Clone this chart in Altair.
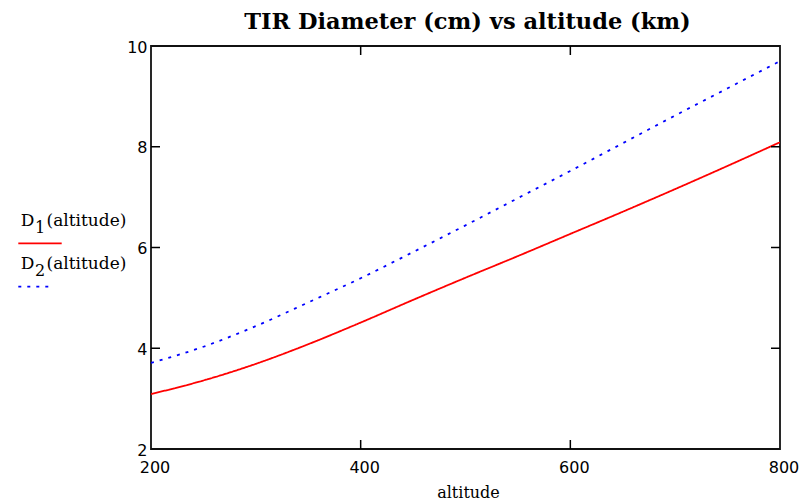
import altair as alt
import pandas as pd

# ---- data ----
altitude = [200, 250, 300, 350, 400, 450, 500, 550, 600, 650, 700, 750, 800]
d1_values = [3.09, 3.36, 3.69, 4.08, 4.51, 4.96, 5.40, 5.83, 6.27, 6.71, 7.16, 7.62, 8.09]
d2_values = [3.71, 4.03, 4.44, 4.91, 5.39, 5.91, 6.44, 6.98, 7.52, 8.07, 8.62, 9.16, 9.70]
series_names = ["D1(altitude)", "D2(altitude)"]
series_main = ["D", "D"]
series_sub = ["1", "2"]
series_arg = ["(altitude)", "(altitude)"]
series_colors = ["#ff0000", "#0000ff"]
series_dash = [[1, 0], [3, 6]]
x_ticks = [200, 400, 600, 800]
y_ticks = [2, 4, 6, 8, 10]
x_inner_ticks = [400, 600]
y_inner_ticks = [4, 6, 8]
title_text = "TIR Diameter (cm) vs altitude (km)"
x_title = "altitude"

W, H = 629, 403

rows = []
for a, v in zip(altitude, d1_values):
    rows.append({"altitude": a, "value": v, "series": series_names[0]})
for a, v in zip(altitude, d2_values):
    rows.append({"altitude": a, "value": v, "series": series_names[1]})
df = pd.DataFrame(rows)

xscale = alt.Scale(domain=[200, 800], nice=False, zero=False)
yscale = alt.Scale(domain=[2, 10], nice=False, zero=False)

lines = alt.Chart(df).mark_line(interpolate="monotone", strokeWidth=1.8, clip=True).encode(
    x=alt.X("altitude:Q", scale=xscale, title=x_title,
            axis=alt.Axis(values=x_ticks, ticks=False, tickSize=0, domain=False, grid=False,
                          labelFont="DejaVu Sans", labelFontSize=16, labelColor="black",
                          labelPadding=10, labelOffset=3.5, labelFlush=False,
                          titleFont="DejaVu Serif", titleFontSize=16, titleFontWeight="normal",
                          titleColor="black", titleX=317, titleY=48, titleBaseline="alphabetic")),
    y=alt.Y("value:Q", scale=yscale, title=None,
            axis=alt.Axis(values=y_ticks, ticks=False, tickSize=0, domain=False, grid=False,
                          labelFont="DejaVu Sans", labelFontSize=16, labelColor="black",
                          labelPadding=4, labelOffset=1, labelFlush=False)),
    color=alt.Color("series:N", scale=alt.Scale(domain=series_names, range=series_colors), legend=None),
    strokeDash=alt.StrokeDash("series:N", scale=alt.Scale(domain=series_names, range=series_dash), legend=None),
)

ytk = pd.DataFrame({"value": y_inner_ticks})
xtk = pd.DataFrame({"altitude": x_inner_ticks})
tick_len = 9
left_ticks = alt.Chart(ytk).mark_rule(color="black", strokeWidth=1.5).encode(
    y=alt.Y("value:Q", scale=yscale), x=alt.value(0), x2=alt.value(tick_len))
right_ticks = alt.Chart(ytk).mark_rule(color="black", strokeWidth=1.5).encode(
    y=alt.Y("value:Q", scale=yscale), x=alt.value(W - tick_len), x2=alt.value(W))
top_ticks = alt.Chart(xtk).mark_rule(color="black", strokeWidth=1.5).encode(
    x=alt.X("altitude:Q", scale=xscale), y=alt.value(0), y2=alt.value(tick_len))
bottom_ticks = alt.Chart(xtk).mark_rule(color="black", strokeWidth=1.5).encode(
    x=alt.X("altitude:Q", scale=xscale), y=alt.value(H - tick_len), y2=alt.value(H))

one = pd.DataFrame({"k": [0]})

# ---- chart title as a text mark above the plot ----
title_layer = alt.Chart(one).mark_text(
    text=title_text, font="DejaVu Serif", fontSize=22.5, fontWeight="bold", color="black",
    align="center", baseline="alphabetic").encode(x=alt.value(W / 2 + 2), y=alt.value(-17.5))

# ---- hand-made legend at the left (Mathcad style) ----
legend_layers = []
row_base = [180, 223.3]
line_y = [197.3, 240.7]
line_x2 = [-89.3, -97.7]
for i in range(2):
    legend_layers.append(alt.Chart(one).mark_text(
        text=series_main[i], font="DejaVu Serif", fontSize=17, color="black",
        align="left", baseline="alphabetic").encode(x=alt.value(-130.3), y=alt.value(row_base[i])))
    legend_layers.append(alt.Chart(one).mark_text(
        text=series_sub[i], font="DejaVu Serif", fontSize=16, color="black",
        align="left", baseline="alphabetic").encode(x=alt.value(-116), y=alt.value(row_base[i] + 7)))
    legend_layers.append(alt.Chart(one).mark_text(
        text=series_arg[i], font="DejaVu Serif", fontSize=17, color="black",
        align="left", baseline="alphabetic").encode(x=alt.value(-104.5), y=alt.value(row_base[i])))
    legend_layers.append(alt.Chart(one).mark_rule(
        color=series_colors[i], strokeWidth=1.8, strokeDash=series_dash[i]).encode(
        x=alt.value(-132.7), x2=alt.value(line_x2[i]), y=alt.value(line_y[i])))

chart = alt.layer(lines, left_ticks, right_ticks, top_ticks, bottom_ticks, title_layer,
                  *legend_layers).properties(
    width=W, height=H,
    background="white",
    autosize=alt.AutoSizeParams(type="none"),
    padding={"left": 143, "top": 38, "right": 23, "bottom": 52},
).configure_view(stroke="#111111", strokeWidth=1.8)

chart.save("out.html", embed_options={"renderer": "svg", "actions": False})
